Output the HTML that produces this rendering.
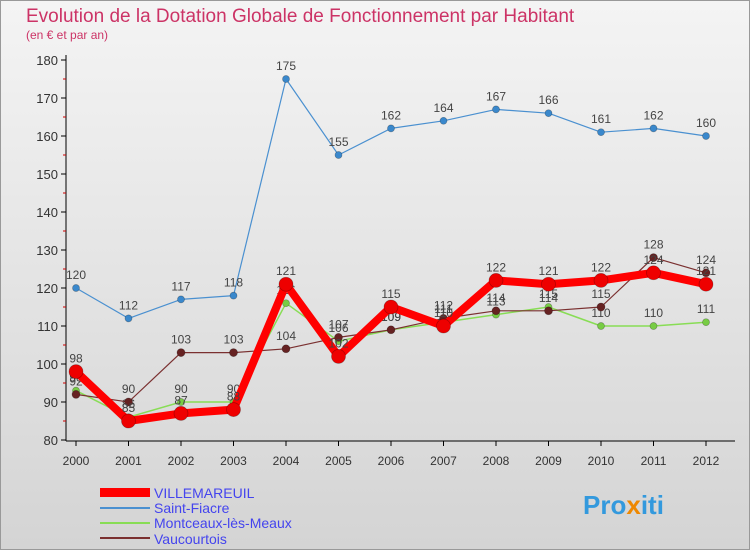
<!DOCTYPE html>
<html><head><meta charset="utf-8"><style>
body{margin:0;width:750px;height:550px;overflow:hidden;font-family:"Liberation Sans",sans-serif}
svg{display:block}
</style></head><body>
<svg id="c" width="750" height="550">
<defs><linearGradient id="bg" x1="0" y1="0" x2="0" y2="1"><stop offset="0" stop-color="#f4f4f4"/><stop offset="1" stop-color="#d4d4d4"/></linearGradient></defs>
<rect x="0.5" y="0.5" width="749" height="549" fill="url(#bg)" stroke="#999"/>
<text x="26" y="22" font-size="19" fill="#cc3366">Evolution de la Dotation Globale de Fonctionnement par Habitant</text>
<text x="26" y="39" font-size="12" fill="#cc3366">(en € et par an)</text>
<g id="axes"></g><g id="series"></g>
<g>
<rect x="100" y="488" width="50" height="9" fill="#ff0000"/>
<text x="154" y="498" font-size="14" fill="#4444ee">VILLEMAREUIL</text>
<line x1="100" y1="508" x2="150" y2="508" stroke="#4a90d0" stroke-width="2"/>
<text x="154" y="513" font-size="14" fill="#4444ee">Saint-Fiacre</text>
<line x1="100" y1="523" x2="150" y2="523" stroke="#88dd55" stroke-width="2"/>
<text x="154" y="528" font-size="14" fill="#4444ee">Montceaux-lès-Meaux</text>
<line x1="100" y1="538" x2="150" y2="538" stroke="#7a3030" stroke-width="2"/>
<text x="154" y="544" font-size="14" fill="#4444ee">Vaucourtois</text>
</g>
<text x="583" y="514" font-size="26" font-weight="bold" fill="#3399dd">Pro<tspan fill="#ee8800">x</tspan>iti</text>
</svg>
<script>
const years=[2000,2001,2002,2003,2004,2005,2006,2007,2008,2009,2010,2011,2012];
const villemareuil=[98,85,87,88,121,102,115,110,122,121,122,124,121];
const saintFiacre=[120,112,117,118,175,155,162,164,167,166,161,162,160];
const montceaux=[93,86,90,90,116,106,109,111,113,115,110,110,111];
const vaucourtois=[92,90,103,103,104,107,109,112,114,114,115,128,124];
const yTicks=[80,90,100,110,120,130,140,150,160,170,180];
const NS="http://www.w3.org/2000/svg";
const X=i=>76+i*52.5, Y=v=>440-(v-80)*3.8;
function mk(p,t,a){const e=document.createElementNS(NS,t);for(const k in a)e.setAttribute(k,a[k]);p.appendChild(e);return e;}
const ax=document.getElementById('axes');
const yl=mk(ax,'line',{x1:66,y1:55,x2:66,y2:441,stroke:'#000'});


const xl=mk(ax,'line',{x1:66,y1:441,x2:735,y2:441,stroke:'#000'});


yTicks.forEach(v=>{mk(ax,'line',{x1:61,y1:Y(v),x2:66,y2:Y(v),stroke:'#000'});
 if(v<180)mk(ax,'line',{x1:63,y1:Y(v+5),x2:66,y2:Y(v+5),stroke:'#cc0000'});
 const t=mk(ax,'text',{x:58,y:Y(v)+5,'font-size':13,'text-anchor':'end',fill:'#333'});t.textContent=v;
 
 });
years.forEach((y,i)=>{mk(ax,'line',{x1:X(i),y1:441,x2:X(i),y2:446,stroke:'#000'});
 const t=mk(ax,'text',{x:X(i),y:465,'font-size':12,'text-anchor':'middle',fill:'#333'});t.textContent=y;
 
 });
const sg=document.getElementById('series');
function series(d,name,color,w,r,dot){
 const g=mk(sg,'g',{});
 
 
 const pl=mk(g,'polyline',{points:d.map((v,i)=>X(i)+','+Y(v)).join(' '),fill:'none',stroke:color,'stroke-width':w,'stroke-linejoin':'round'});
 
 
 d.forEach((v,i)=>{const c=mk(g,'circle',{cx:X(i),cy:Y(v),r:r,fill:dot,stroke:'rgba(0,0,0,0.3)','stroke-width':0.7});
  
  
  const t=mk(g,'text',{x:X(i),y:Y(v)-9,'font-size':12,'text-anchor':'middle',fill:'#444'});t.textContent=v;
  
  });
}
series(saintFiacre,'saint-fiacre','#4a90d0',1.2,3.5,'#3a88cc');
series(montceaux,'montceaux','#88dd55',1.5,3.5,'#77cc44');
series(vaucourtois,'vaucourtois','#7a3030',1.2,4,'#662222');
series(villemareuil,'villemareuil','#ff0000',8,7,'#ee0000');
</script>
</body></html>
